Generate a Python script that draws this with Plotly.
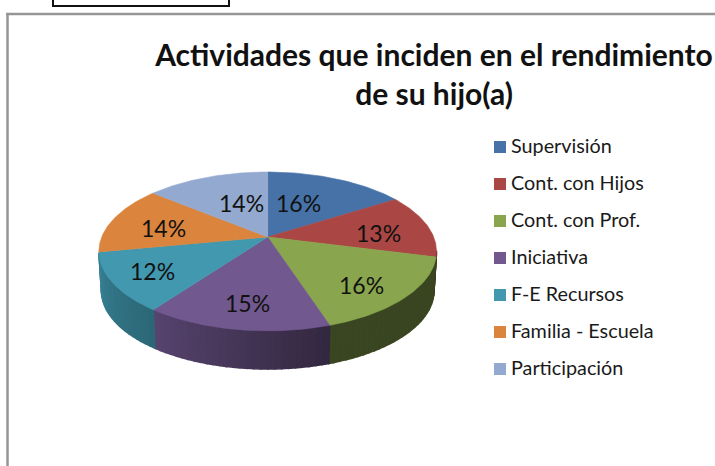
import numpy as np
import plotly.graph_objects as go

categories = ["Supervisión", "Cont. con Hijos", "Cont. con Prof.", "Iniciativa",
              "F-E Recursos", "Familia - Escuela", "Participación"]
values = [16, 13, 16, 15, 12, 14, 14]
colors = ["#4672A8", "#AA4643", "#89A54E", "#71588F", "#4198AF", "#DB843D", "#93A9CF"]

# shade of the pie wall at the start and end of each slice
wall_shade = [(0.45, 0.45), (0.42, 0.42), (0.42, 0.42), (0.45, 0.78),
              (0.68, 0.85), (0.85, 0.85), (0.85, 0.85)]

# where the percent labels sit, in pixels
label_x = [298, 378, 361, 247, 152, 163, 241]
label_y = [203, 233, 285, 303, 271, 228, 203]

# pie geometry, tilted with a little perspective
cx, cy = 267.7, 237
rad_x, rad_y, persp = 166, 76.8, 0.182
depth, bottom_scale = 39.5, 0.985


def project(angle, drop=0, scale=1.0):
	""" Angle in degrees clockwise from 12 o'clock, returns pixel x and y """
	a = np.radians(angle)
	u, v = np.sin(a), np.cos(a)
	w = 1 + persp * v
	return cx + scale * rad_x * u / w, cy + drop - scale * rad_y * v / w


def shade(hex_color, factor):
	r, g, b = [int(hex_color[i:i + 2], 16) for i in (1, 3, 5)]
	return f"rgb({r * factor:.0f},{g * factor:.0f},{b * factor:.0f})"


def polygon(xs, ys, color, line_width=0.6):
	return go.Scatter(x=xs, y=ys, mode="lines", fill="toself", fillcolor=color,
					  line=dict(color=color, width=line_width), hoverinfo="skip", showlegend=False)


total = sum(values)
edges = np.cumsum([0] + values) / total * 360

fig = go.Figure()

# walls first, the top faces paint over them
for i, color in enumerate(colors):
	start = max(edges[i], 100)
	end = min(edges[i + 1], 258.5)
	if end <= start:
		continue
	steps = np.arange(start, end + 2, 2.0)
	steps[-1] = end
	for a0, a1 in zip(steps[:-1], steps[1:]):
		t = (a0 - edges[i]) / (edges[i + 1] - edges[i])
		factor = wall_shade[i][0] + t * (wall_shade[i][1] - wall_shade[i][0])
		x0, y0 = project(a0)
		x1, y1 = project(a1)
		x2, y2 = project(a1, depth, bottom_scale)
		x3, y3 = project(a0, depth, bottom_scale)
		fig.add_trace(polygon([x0, x1, x2, x3, x0], [y0, y1, y2, y3, y0], shade(color, factor), 1.5))

# top face of each slice
for i, color in enumerate(colors):
	rim = np.linspace(edges[i], edges[i + 1], 60)
	rx, ry = project(rim)
	fig.add_trace(polygon(np.r_[cx, rx, cx], np.r_[cy, ry, cy], color))

# legend, drawn by hand so the swatches sit close to the text as in the original
legend_y = [147 + 37 * i for i in range(len(categories))]
fig.add_trace(go.Scatter(
	x=[500] * len(categories),
	y=legend_y,
	mode="markers",
	marker=dict(symbol="square", size=12, color=colors, line=dict(width=0)),
	hoverinfo="skip",
	showlegend=False,
))
fig.add_trace(go.Scatter(
	x=[511] * len(categories),
	y=[y + 1.5 for y in legend_y],
	mode="text",
	text=categories,
	textposition="middle right",
	textfont=dict(family="Lato", size=19.8, color="#1a1a1a"),
	hoverinfo="skip",
	showlegend=False,
))

for v, lx, ly in zip(values, label_x, label_y):
	fig.add_annotation(x=lx, y=ly, text=f"{v}%", showarrow=False,
					   font=dict(family="Lato", size=23, color="#111111"))

# the frame of the chart and the box cut off above it
fig.add_shape(type="line", x0=7.5, x1=7.5, y0=14, y1=466, line=dict(color="#969696", width=2.5))
fig.add_shape(type="line", x0=6, x1=715, y0=14, y1=14, line=dict(color="#969696", width=2.5))
fig.add_shape(type="line", x0=53, x1=53, y0=-2, y1=6, line=dict(color="#111111", width=2))
fig.add_shape(type="line", x0=229, x1=229, y0=-2, y1=6, line=dict(color="#111111", width=2))
fig.add_shape(type="line", x0=52, x1=230, y0=6, y1=6, line=dict(color="#111111", width=2))

fig.update_layout(
	title=dict(
		text="Actividades que inciden en el rendimiento<br>de su hijo(a)",
		x=434 / 715, xanchor="center", y=1 - 66 / 466, yanchor="top",
		font=dict(family="Lato", size=30, color="#111111", weight="bold"),
	),
	width=715,
	height=466,
	margin=dict(l=0, r=0, t=0, b=0),
	paper_bgcolor="white",
	plot_bgcolor="white",
	xaxis=dict(range=[0, 715], visible=False, fixedrange=True),
	yaxis=dict(range=[466, 0], visible=False, fixedrange=True),
)

# the page's default body margin would push the chart 8 px in
fig.write_html("out.html", config=dict(displayModeBar=False),
			   post_script="document.body.style.margin = '0';")
